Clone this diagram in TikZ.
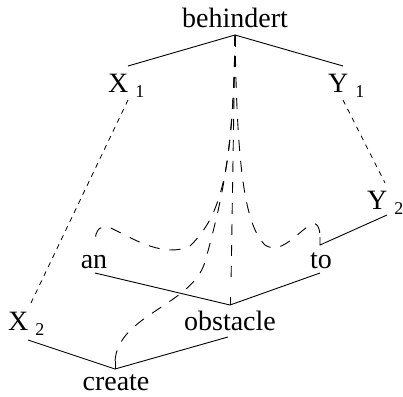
\documentclass[tikz,border=0pt]{standalone}
\usepackage{fontspec}
\setmainfont{Liberation Serif}
\newcommand{\subsc}[1]{\hspace{7pt}\raisebox{-5pt}{\fontsize{18}{18}\selectfont #1}}
\begin{document}
\begin{tikzpicture}[x=1pt,y=-1pt,
  lbl/.style={font=\fontsize{28}{28}\selectfont, inner sep=0pt, anchor=base},
  sline/.style={line width=0.9pt},
  fdash/.style={line width=0.8pt, dash pattern=on 5pt off 5pt},
  cdash/.style={line width=0.9pt, dash pattern=on 11pt off 10pt}]
\useasboundingbox (0,0) rectangle (403,396);
% labels
\node[lbl] (beh) at (235,28) {behindert};
\node[lbl, anchor=base west] (x1) at (108,92) {X\subsc{1}};
\node[lbl, anchor=base west] (y1) at (328,92) {Y\subsc{1}};
\node[lbl, anchor=base west] (y2) at (367,209) {Y\subsc{2}};
\node[lbl] (an) at (94,268) {an};
\node[lbl] (to) at (321,268) {to};
\node[lbl, anchor=base west] (x2) at (8,330) {X\subsc{2}};
\node[lbl] (obs) at (230,330) {obstacle};
\node[lbl] (cre) at (116,390) {create};
% anchor points
\coordinate (top) at (235,35);
\coordinate (topt) at (235,47);
\coordinate (x1r) at (128,66);
\coordinate (y1r) at (343,66);
\coordinate (x1b) at (128,100);
\coordinate (x2t) at (30,305);
\coordinate (y1b) at (343,100);
\coordinate (y2t) at (385,183);
\coordinate (y2b) at (387,215);
\coordinate (tor) at (320,245);
\coordinate (tort) at (320,237);
\coordinate (anr) at (95,273);
\coordinate (obsr) at (230,305);
\coordinate (obsrt) at (230,297);
\coordinate (tor2) at (320,273);
\coordinate (x2b) at (28,340);
\coordinate (crer) at (115,369);
\coordinate (crert) at (115,361);
\coordinate (obsb) at (228,337);
\coordinate (ant) at (95,243);
\coordinate (mide) at (231,285);
% solid tree lines
\draw[sline] (x1r) -- (top) -- (y1r);
\draw[sline] (top) -- (topt);
\draw[sline] (y2b) -- (tor) -- (tort);
\draw[sline] (anr) -- (obsr) -- (tor2);
\draw[sline] (obsr) -- (obsrt);
\draw[sline] (x2b) -- (crer) -- (obsb);
\draw[sline] (crer) -- (crert);
% fine dashed links
\draw[fdash] (x1b) -- (x2t);
\draw[fdash] (y1b) -- (y2t);
% curved dashed links
\draw[cdash] (top) -- (mide);
\draw[cdash] (top) .. controls (234,150) and (222,200) .. (205,262)
  .. controls (192,305) and (118,315) .. (crert);
\draw[cdash] (top) .. controls (233,170) and (222,215) .. (190,246)
  .. controls (165,258) and (135,240) .. (115,230)
  .. controls (100,222) and (95,230) .. (ant);
\draw[cdash] (top) .. controls (237,170) and (245,225) .. (265,245)
  .. controls (280,255) and (295,235) .. (310,225)
  .. controls (318,220) and (320,230) .. (tort);
\end{tikzpicture}
\end{document}
